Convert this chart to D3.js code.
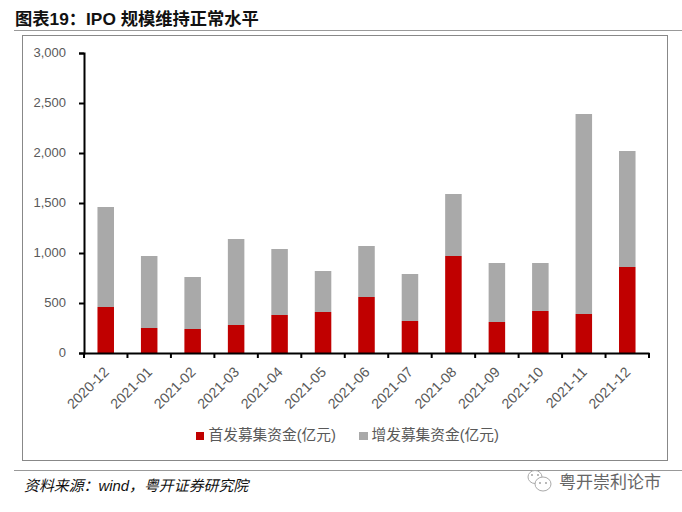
<!DOCTYPE html>
<html><head><meta charset="utf-8">
<script src="https://cdn.jsdelivr.net/npm/d3@7"></script>
<style>
html,body{margin:0;padding:0;background:#fff}
svg{display:block}
text{font-family:"Liberation Sans","Noto Sans CJK SC",sans-serif}
</style></head><body>
<svg id="c" width="682" height="512"></svg>
<script>
const categories=["2020-12","2021-01","2021-02","2021-03","2021-04","2021-05","2021-06","2021-07","2021-08","2021-09","2021-10","2021-11","2021-12"];
const ipo=[460,250,240,280,380,410,560,320,970,310,420,390,860];
const followOn=[1000,720,520,860,660,410,510,470,620,590,480,2000,1160];
const yTicks=[0,500,1000,1500,2000,2500,3000];
const seriesNames=["首发募集资金(亿元)","增发募集资金(亿元)"];
const seriesColors=["#c00000","#a9a9a9"];
const titleText="图表19：IPO 规模维持正常水平";
const sourceText="资料来源：wind，粤开证券研究院";
const watermarkText="粤开崇利论市";

const svg=d3.select("#c");
const y=d3.scaleLinear().domain([0,3000]).range([353,53]);
const x=d3.scaleBand().domain(categories).range([84,649]).paddingInner(0.62).paddingOuter(0.31);
const xStep=d3.scaleBand().domain(categories).range([84,649]);

// title and rules
svg.append("text").attr("x",15).attr("y",25).attr("font-size",17.3).attr("font-weight","bold").attr("fill","#111").text(titleText);
[30.5,470.5].forEach(v=>svg.append("line").attr("x1",14).attr("x2",682).attr("y1",v).attr("y2",v).attr("stroke","#999"));
svg.append("rect").attr("x",22.5).attr("y",35.5).attr("width",645).attr("height",425).attr("fill","#fff").attr("stroke","#888");

// bars
categories.forEach((c,i)=>{
  svg.append("rect").attr("x",x(c)).attr("width",x.bandwidth()).attr("y",y(ipo[i])).attr("height",y(0)-y(ipo[i])).attr("fill",seriesColors[0]);
  svg.append("rect").attr("x",x(c)).attr("width",x.bandwidth()).attr("y",y(ipo[i]+followOn[i])).attr("height",y(0)-y(followOn[i])).attr("fill",seriesColors[1]);
});

// y axis
const gy=svg.append("g").attr("transform","translate(84,0)")
  .call(d3.axisLeft(y).tickValues(yTicks).tickFormat(d3.format(",")).tickSizeOuter(0).tickSize(5).tickPadding(13));
gy.selectAll("path,line").attr("stroke","#000").attr("stroke-width",2);
gy.selectAll("text").attr("font-size",13).attr("fill","#595959").attr("dy","0.28em");

// x axis
const gx=svg.append("g").attr("transform","translate(0,353)")
  .call(d3.axisBottom(xStep).tickSizeOuter(0).tickSize(0).tickFormat(d=>d));
gx.select("path").attr("stroke","#000").attr("stroke-width",2);
gx.selectAll(".tick line").remove();
gx.selectAll(".tick text").attr("font-size",14.2).attr("fill","#595959")
  .attr("text-anchor","end").attr("dy",0).attr("y",0)
  .attr("transform","translate(4,20) rotate(-45)");
const edges=categories.map(c=>xStep(c)).concat([649]);
svg.append("g").selectAll("line").data(edges).join("line")
  .attr("x1",d=>d).attr("x2",d=>d).attr("y1",353).attr("y2",358).attr("stroke","#000").attr("stroke-width",2);

// legend
const lx=[196,359];
seriesNames.forEach((n,i)=>{
  svg.append("rect").attr("x",lx[i]).attr("y",432).attr("width",i?9:8).attr("height",8).attr("fill",seriesColors[i]);
  svg.append("text").attr("x",lx[i]+12.5).attr("y",440).attr("font-size",14.7).attr("fill","#595959").text(n);
});

// source and watermark
svg.append("text").attr("x",24).attr("y",491).attr("font-size",14.9).attr("font-style","italic").attr("fill","#111").text(sourceText);
svg.append("text").attr("x",559).attr("y",488).attr("font-size",17).attr("fill","#666").text(watermarkText);
const wm=svg.append("g").attr("fill","#fff").attr("stroke","#aaa");
wm.append("ellipse").attr("cx",535).attr("cy",477).attr("rx",7).attr("ry",6.5);
wm.append("ellipse").attr("cx",543).attr("cy",484).attr("rx",8).attr("ry",7);
wm.selectAll("circle").data([[532,475],[538,475],[540,483],[546,483]]).join("circle")
  .attr("cx",d=>d[0]).attr("cy",d=>d[1]).attr("r",0.9).attr("fill","#999").attr("stroke","none");
</script>
</body></html>
